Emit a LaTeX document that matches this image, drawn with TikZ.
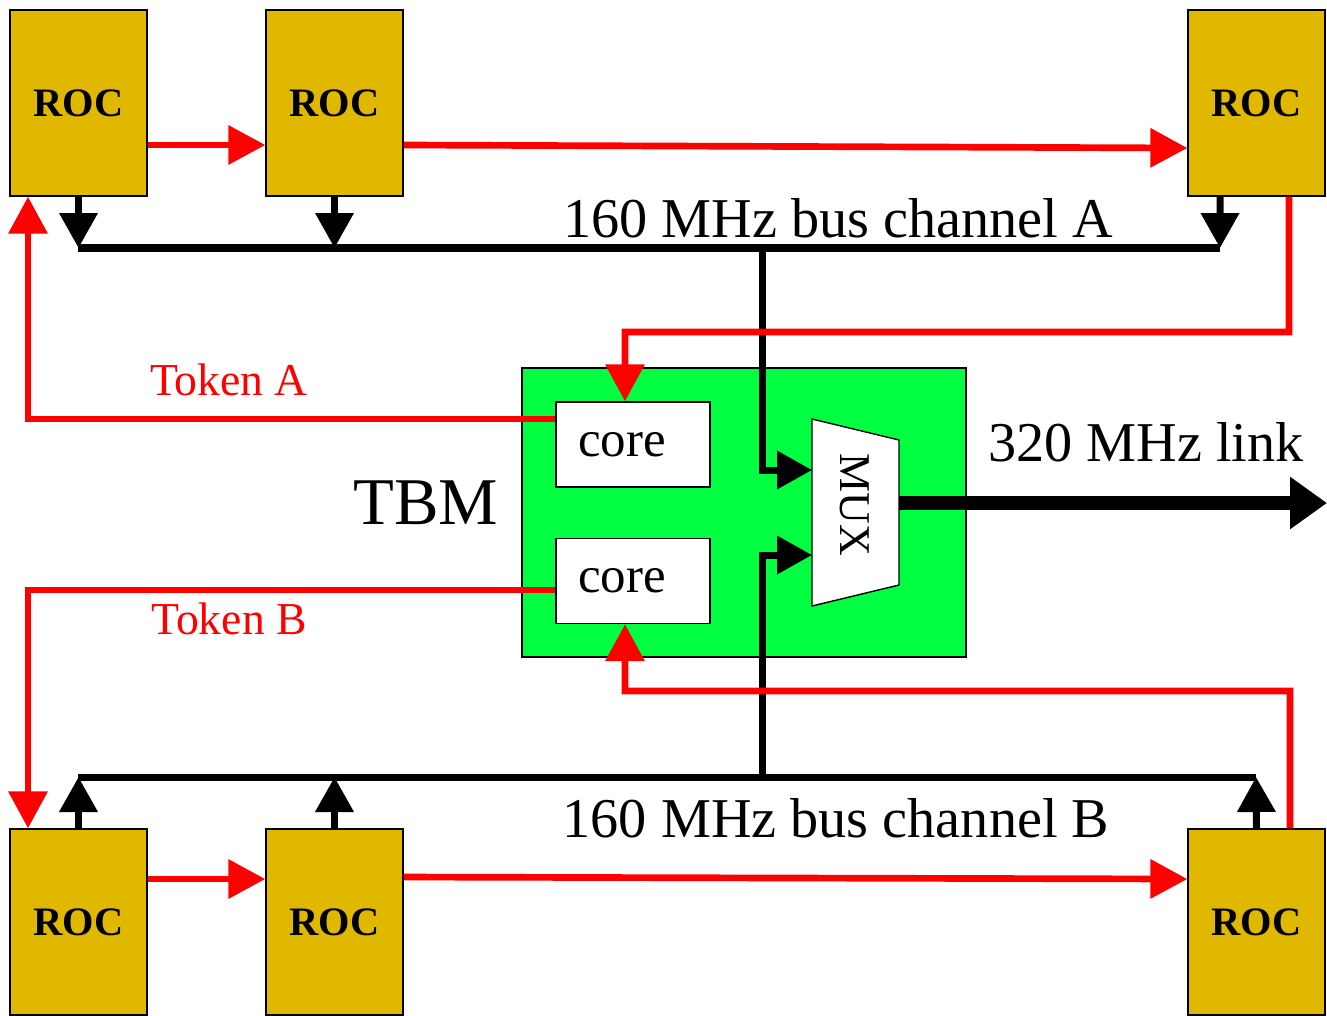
\documentclass[tikz,border=0pt]{standalone}
\usepackage{fontspec}
\setmainfont{Liberation Serif}
\usetikzlibrary{arrows.meta,positioning,calc}
\definecolor{rocgold}{RGB}{224,184,0}
\definecolor{tbmgreen}{RGB}{0,255,64}

\begin{document}
\begin{tikzpicture}[x=0.02cm,y=-0.02cm,
	roc/.style={draw, line width=0.8pt, fill=rocgold, minimum width=2.74cm, minimum height=3.72cm, font=\fontsize{23}{27}\selectfont\bfseries},
	corebox/.style={draw, line width=0.8pt, fill=white, text width=2.2cm, inner xsep=0.44cm, align=left, minimum height=1.7cm, font=\fontsize{29}{34}\selectfont},
	tok/.style={red, line width=3.8pt, -{Triangle[length=0.74cm,width=0.76cm]}},
	bus/.style={line width=4pt},
	busarr/.style={line width=4pt, -{Triangle[length=0.7cm,width=0.74cm]}},
	lbl/.style={font=\fontsize{32}{38}\selectfont}]
	\useasboundingbox (0,0) rectangle (1327,1015);
	
	\node[draw, line width=0.8pt, fill=tbmgreen, minimum width=8.88cm, minimum height=5.78cm] (tbm) at (744,512.5) {};
	\node[font=\fontsize{38}{44}\selectfont] (tbmlbl) at (426,503) {TBM};
	\node[corebox] (coreA) at (633,444.5) {core};
	\node[corebox] (coreB) at (633,581) {core};
	
	% readout chips
	\node[roc] (roctl) at (78.5,103) {ROC};
	\node[roc] (roctm) at (334.5,103) {ROC};
	\node[roc] (roctr) at (1256.5,103) {ROC};
	\node[roc] (rocbl) at (78.5,922) {ROC};
	\node[roc] (rocbm) at (334.5,922) {ROC};
	\node[roc] (rocbr) at (1256.5,922) {ROC};
	
	% mux
	\draw[line width=0.8pt, fill=white] (812,419) coordinate (muxtl) -- (899,440) -- (899,585) -- (812,606) coordinate (muxbl) -- cycle;
	\node[rotate=-90, font=\fontsize{25}{30}\selectfont] (mux) at (855,505) {MUX};
	\coordinate (muxinA) at (812,470);
	\coordinate (muxinB) at (812,555);
	\coordinate (muxout) at (899,503);
	\coordinate (linkend) at (1327,503);
	
	% buses
	\coordinate (busAl) at (78,248);
	\coordinate (busAr) at (1220,248);
	\coordinate (busBl) at (78,777);
	\coordinate (busBr) at (1256,777);
	\draw[bus] (busAl) -- (busAr);
	\draw[bus] (busBl) -- (busBr);
	\draw[busarr] (roctl.south) -- (roctl.south |- busAl);
	\draw[busarr] (roctm.south) -- (roctm.south |- busAl);
	\draw[busarr] ([xshift=-0.73cm]roctr.south) -- (busAr);
	\draw[busarr] (rocbl.north) -- (rocbl.north |- busBl);
	\draw[busarr] (rocbm.north) -- (rocbm.north |- busBl);
	\draw[busarr] (rocbr.north) -- (busBr);
	\draw[busarr] (762,248) |- (muxinA);
	\draw[busarr] (762,777) |- (muxinB);
	\draw[line width=8pt, -{Triangle[length=0.74cm,width=1.0cm]}] (muxout) -- (linkend);
	
	% token chain
	\draw[tok] ([yshift=-0.84cm]roctl.east) -- ([yshift=-0.84cm]roctm.west);
	\draw[tok] ([yshift=-0.84cm]roctm.east) -- ([yshift=-0.9cm]roctr.west);
	\draw[tok] ([yshift=0.86cm]rocbl.east) -- ([yshift=0.86cm]rocbm.west);
	\draw[tok] ([yshift=0.9cm]rocbm.east) -- ([yshift=0.86cm]rocbr.west);
	\draw[tok] ([yshift=0.51cm]coreA.west) -| ([xshift=-1.01cm]roctl.south);
	\draw[tok] ([yshift=-0.18cm]coreB.west) -| ([xshift=-1.01cm]rocbl.north);
	\draw[tok] ([xshift=0.65cm]roctr.south) |- (625,332) -- ([xshift=-0.16cm]coreA.north);
	\draw[tok] ([xshift=0.67cm]rocbr.north) |- (625,691) -- ([xshift=-0.16cm]coreB.south);
	
	\node[red, font=\fontsize{26}{31}\selectfont] (tokA) at (229,380) {Token A};
	\node[red, font=\fontsize{26}{31}\selectfont] (tokB) at (229,619) {Token B};
	\node[lbl] (busAlbl) at (838,218) {160 MHz bus channel A};
	\node[lbl] (busBlbl) at (836,818) {160 MHz bus channel B};
	\node[lbl] (linklbl) at (1146,442) {320 MHz link};
\end{tikzpicture}
\end{document}
